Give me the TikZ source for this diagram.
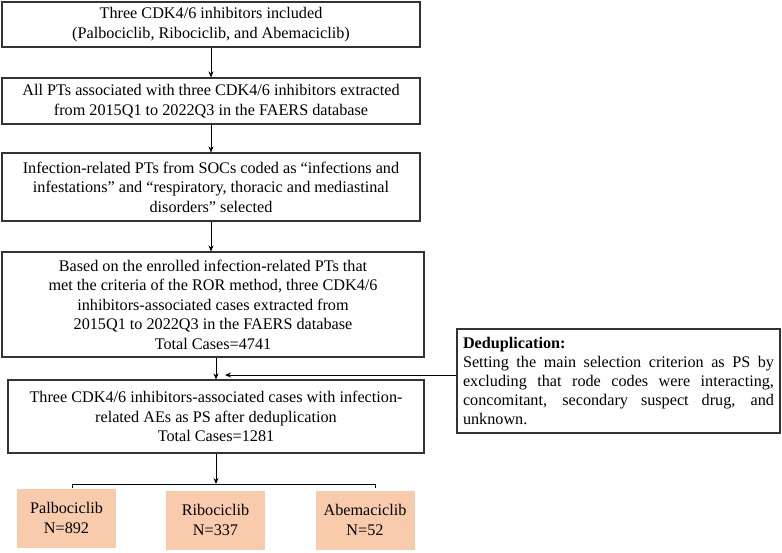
\documentclass[tikz,border=0pt]{standalone}
\usepackage{fontspec}
\setmainfont{Liberation Serif}
\usetikzlibrary{arrows.meta}
\definecolor{peach}{HTML}{F8CBAD}
\tikzset{
	stepbox/.style={draw=black!80, line width=1.1pt, align=center, inner sep=0pt},
	drugbox/.style={fill=peach, align=center, inner sep=0pt, minimum width=99pt, minimum height=59pt},
	flow/.style={-{Stealth[length=6pt,width=5pt]}, line width=0.9pt}
}
\begin{document}
\begin{tikzpicture}[x=1pt,y=-1pt,font=\fontsize{16.2}{19.5}\selectfont]
	\useasboundingbox (0,0) rectangle (782,552);
	% main column
	\node[stepbox, minimum width=418pt, minimum height=45pt] (incl) at (211,24.5) {Three CDK4/6 inhibitors included\\(Palbociclib, Ribociclib, and Abemaciclib)};
	\node[stepbox, minimum width=418pt, minimum height=46pt] (allpt) at (211,101) {All PTs associated with three CDK4/6 inhibitors extracted\\from 2015Q1 to 2022Q3 in the FAERS database};
	\node[stepbox, minimum width=418pt, minimum height=68pt] (socs) at (211,187) {Infection-related PTs from SOCs coded as ``infections and\\infestations'' and ``respiratory, thoracic and mediastinal\\disorders'' selected};
	\node[stepbox, minimum width=422pt, minimum height=105pt] (ror) at (213,304.5) {Based on the enrolled infection-related PTs that\\met the criteria of the ROR method, three CDK4/6\\inhibitors-associated cases extracted from\\2015Q1 to 2022Q3 in the FAERS database\\Total Cases=4741};
	\node[stepbox, minimum width=416pt, minimum height=73pt] (cases) at (216,416.5) {Three CDK4/6 inhibitors-associated cases with infection-\\related AEs as PS after deduplication\\Total Cases=1281};
	% side note
	\node[stepbox, align=justify, text width=311pt, inner xsep=6pt, minimum height=104pt,
		font=\fontsize{16.2}{19}\selectfont] (note) at (618.5,381) {\hyphenpenalty=10000 \textbf{Deduplication:}\\Setting the main selection criterion as PS by\linebreak excluding that rode codes were interacting,\linebreak concomitant, secondary suspect drug, and\linebreak unknown.};
	% drugs
	\node[drugbox] (palbo) at (66.5,518) {Palbociclib\\N=892};
	\node[drugbox] (ribo) at (215.5,520) {Ribociclib\\N=337};
	\node[drugbox] (abema) at (365,520) {Abemaciclib\\N=52};
	% connectors
	\draw[flow] (incl) -- (allpt);
	\draw[flow] (allpt) -- (socs);
	\draw[flow] (socs) -- (ror.north -| socs.south);
	\draw[flow] (ror.south -| cases.north) -- (cases.north);
	\coordinate (join) at (225,375);
	\draw[flow] (note.west |- join) -- (join);
	\coordinate (fork) at (216,484);
	\coordinate (forkl) at (72,487.5);
	\coordinate (forkr) at (375,487.5);
	\draw[flow] (cases.south) -- (fork);
	\draw[line width=0.9pt] (forkl) -- (forkl |- fork) -- (forkr |- fork) -- (forkr);
\end{tikzpicture}
\end{document}
